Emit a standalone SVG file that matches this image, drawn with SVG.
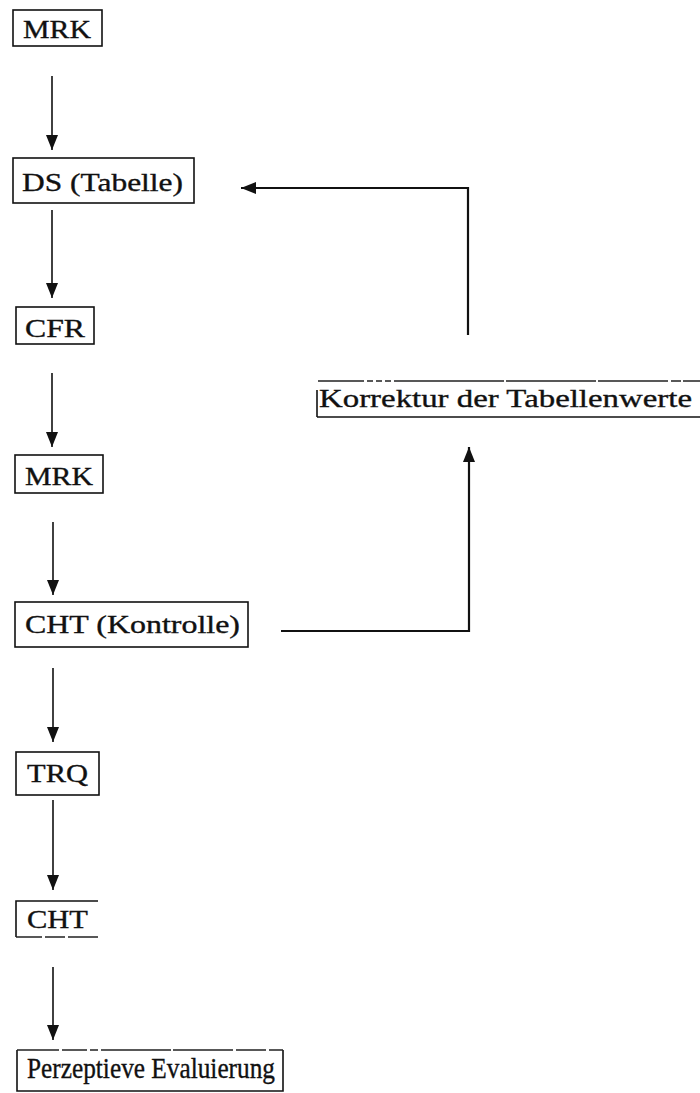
<svg xmlns="http://www.w3.org/2000/svg" width="700" height="1093" viewBox="0 0 700 1093">
<style>
.box{fill:none;stroke:#111;stroke-width:1.6}
.edge{fill:none;stroke:#111;stroke-width:1.6}
.fb{fill:none;stroke:#111;stroke-width:2.2}
.t{font-family:"Liberation Serif","DejaVu Serif",serif;font-size:26px;fill:#111;stroke:#111;stroke-width:0.35}
.big{font-size:29px}
.dash{fill:none;stroke:#222;stroke-width:1.4}
</style>
<defs>
<marker id="ah" markerUnits="userSpaceOnUse" markerWidth="16" markerHeight="12" refX="15" refY="6" orient="auto">
<path d="M0,0 L15,6 L0,12 Z" fill="#111"/>
</marker>
</defs>
<g id="n1"><rect class="box" x="13" y="10" width="89" height="36"/><text class="t" x="23" y="38" textLength="68" lengthAdjust="spacingAndGlyphs">MRK</text></g>
<g id="n2"><rect class="box" x="13" y="158" width="181" height="45"/><text class="t" x="22" y="191" textLength="161" lengthAdjust="spacingAndGlyphs">DS (Tabelle)</text></g>
<g id="n3"><rect class="box" x="16" y="307" width="78" height="37"/><text class="t" x="25" y="337" textLength="60" lengthAdjust="spacingAndGlyphs">CFR</text></g>
<g id="n4"><rect class="box" x="15" y="455" width="88" height="38"/><text class="t" x="25" y="485" textLength="68" lengthAdjust="spacingAndGlyphs">MRK</text></g>
<g id="n5"><rect class="box" x="15" y="602" width="233" height="45"/><text class="t" x="25" y="633" textLength="215" lengthAdjust="spacingAndGlyphs">CHT (Kontrolle)</text></g>
<g id="n6"><rect class="box" x="16" y="752" width="83" height="43"/><text class="t" x="27" y="782" textLength="61" lengthAdjust="spacingAndGlyphs">TRQ</text></g>
<g id="n7"><path class="box" d="M98,901 H16 V937"/><path class="dash" d="M16,937 H98" stroke-dasharray="26 3 20 3 40"/><text class="t" x="27" y="928" textLength="61" lengthAdjust="spacingAndGlyphs">CHT</text></g>
<g id="n8"><path class="box" d="M17,1050 V1091 H283 V1050"/><path class="dash" d="M17,1050 H283" stroke-dasharray="42 3 25 3 8 3 70 2 60 3 30 3 60"/><text class="t big" x="27" y="1078" textLength="248" lengthAdjust="spacingAndGlyphs">Perzeptieve Evaluierung</text></g>
<g id="n9"><path class="box" d="M317,417 H700"/><path class="box" d="M317,390 V417" stroke="#aaa" stroke-width="0.8"/><path class="dash" d="M318,381 H700" stroke-dasharray="46 3 6 3 6 3 6 3 110 2 90 2 70 3 10 2 40"/><text class="t" x="319" y="407" textLength="373" lengthAdjust="spacingAndGlyphs">Korrektur der Tabellenwerte</text></g>
<g id="connectors">
<path class="edge" d="M52,76 V150" marker-end="url(#ah)"/>
<path class="edge" d="M52,210 V298" marker-end="url(#ah)"/>
<path class="edge" d="M52,373 V447" marker-end="url(#ah)"/>
<path class="edge" d="M53,522 V595" marker-end="url(#ah)"/>
<path class="edge" d="M53,668 V742" marker-end="url(#ah)"/>
<path class="edge" d="M53,800 V890" marker-end="url(#ah)"/>
<path class="edge" d="M53,967 V1040" marker-end="url(#ah)"/>
<path class="fb" d="M281,631 H469 V447" marker-end="url(#ah)"/>
<path class="fb" d="M468,335 V188 H241" marker-end="url(#ah)"/>
</g>
</svg>
